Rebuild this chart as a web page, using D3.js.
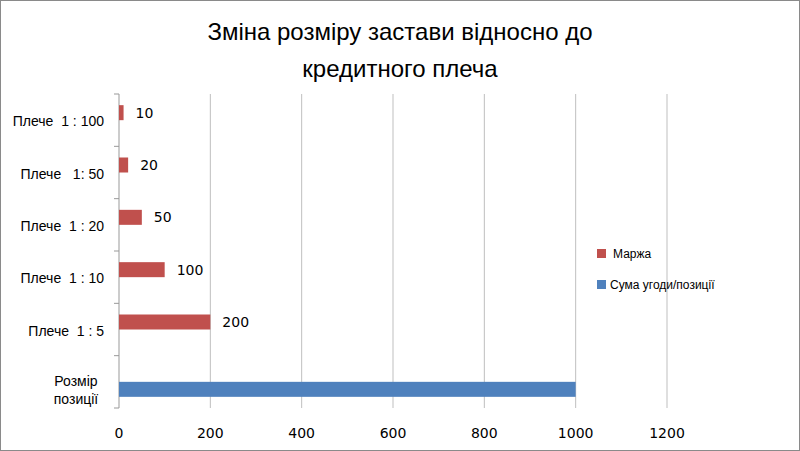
<!DOCTYPE html>
<html><head><meta charset="utf-8">
<script src="https://cdn.jsdelivr.net/npm/d3@7"></script>
<style>body{margin:0;background:#fff} text{white-space:pre}</style></head>
<body><svg id="c" width="800" height="451"></svg>
<script>
const categories = ["Розмір позиції","Плече  1 : 5","Плече  1 : 10","Плече  1 : 20","Плече   1: 50","Плече  1 : 100"];
const margin = [null,200,100,50,20,10];
const dealSize = [1000,null,null,null,null,null];
const xTicks = [0,200,400,600,800,1000,1200];
const seriesNames = ["Маржа","Сума угоди/позиції"];
const colors = ["#c0504d","#4f81bd"];

const svg = d3.select("#c");
svg.append("rect").attr("x",0.5).attr("y",0.5).attr("width",799).attr("height",450).attr("fill","#fff").attr("stroke","#8a8a8a");
const x = d3.scaleLinear().domain([0,1200]).range([119,667]);
const y = d3.scaleBand().domain(categories.slice().reverse()).range([94,408]);
const sub = d3.scaleBand().domain([0,1]).range([y.bandwidth()/2-15,y.bandwidth()/2+15]);

svg.append("text").attr("x",400).attr("y",40).attr("text-anchor","middle").attr("font-family","Liberation Sans, Arial").attr("font-size",24).text("Зміна розміру застави відносно до");
svg.append("text").attr("x",400).attr("y",77).attr("text-anchor","middle").attr("font-family","Liberation Sans, Arial").attr("font-size",24).text("кредитного плеча");

svg.append("g").selectAll("line").data(xTicks.slice(1)).join("line")
 .attr("x1",d=>x(d)).attr("x2",d=>x(d)).attr("y1",94).attr("y2",408).attr("stroke","#bfbfbf");
svg.append("line").attr("x1",119).attr("x2",119).attr("y1",94).attr("y2",408).attr("stroke","#999");
const bt=[...categories.map(c=>y(c)),408];
svg.append("g").selectAll("line").data(bt).join("line").attr("x1",114).attr("x2",119).attr("y1",d=>d).attr("y2",d=>d).attr("stroke","#999");
svg.append("g").selectAll("text").data(xTicks).join("text").attr("x",d=>x(d)).attr("y",438).attr("text-anchor","middle")
 .attr("font-family","DejaVu Sans").attr("font-size",14).text(d=>d);

[margin,dealSize].forEach((vals,s)=>{
 const g=svg.append("g");
 categories.forEach((c,i)=>{
  const v=vals[i]; if(v==null) return;
  g.append("rect").attr("x",x(0)).attr("y",y(c)+sub(s)).attr("width",x(v)-x(0)).attr("height",sub.bandwidth()).attr("fill",colors[s]);
  if(s===0) g.append("text").attr("x",x(v)+12).attr("y",y(c)+sub(s)+sub.bandwidth()/2+5).attr("font-family","DejaVu Sans").attr("font-size",14).text(v);
 });
});

categories.forEach((c,i)=>{
 const cy=y(c)+y.bandwidth()/2;
 if(i===0){
  svg.append("text").attr("x",76).attr("y",cy+4).attr("text-anchor","middle").attr("font-family","Liberation Sans, Arial").attr("font-size",14).text("Розмір");
  svg.append("text").attr("x",76).attr("y",cy+22).attr("text-anchor","middle").attr("font-family","Liberation Sans, Arial").attr("font-size",14).text("позиції");
 } else {
  svg.append("text").attr("x",104).attr("y",cy+6).attr("text-anchor","end").attr("font-family","Liberation Sans, Arial").attr("font-size",14).text(c);
 }
});

seriesNames.forEach((n,i)=>{
 const ly=254+i*31;
 svg.append("rect").attr("x",597).attr("y",ly-5).attr("width",9).attr("height",9).attr("fill",colors[i]);
 svg.append("text").attr("x",610+(i?0:3)).attr("y",ly+4).attr("font-family","Liberation Sans, Arial").attr("font-size",12).text(n);
});
</script></body></html>
